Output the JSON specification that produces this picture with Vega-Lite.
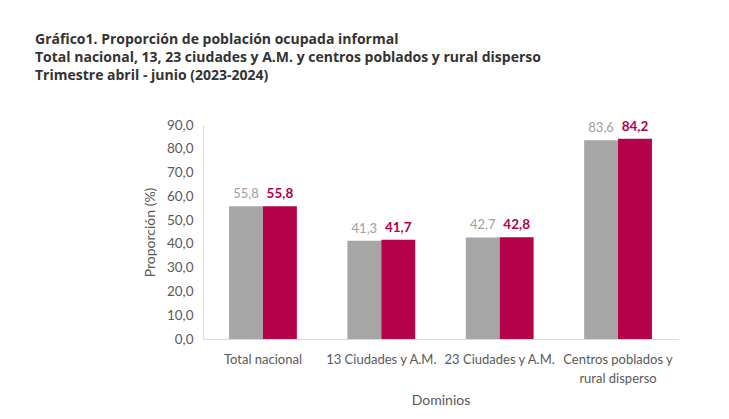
{
  "$schema": "https://vega.github.io/schema/vega-lite/v6.json",
  "autosize": {"type": "none"},
  "width": 475,
  "height": 214,
  "padding": {"left": 203, "top": 125, "right": 51, "bottom": 80},
  "background": "white",
  "config": {
    "locale": {"number": {"decimal": ",", "thousands": ".", "grouping": [3], "currency": ["$", ""]}},
    "view": {"stroke": null},
    "font": "Lato"
  },
  "title": {
    "text": [
      "Gráfico1. Proporción de población ocupada informal",
      "Total nacional, 13, 23 ciudades y A.M. y centros poblados y rural disperso",
      "Trimestre abril - junio (2023-2024)"
    ],
    "anchor": "start",
    "frame": "group",
    "dx": -168,
    "offset": 35,
    "font": "Open Sans",
    "fontSize": 14,
    "fontWeight": "bold",
    "color": "#333333",
    "lineHeight": 18
  },
  "data": {
    "values": [
      {"dominio": "Total nacional", "anio": "2023", "valor": 55.8},
      {"dominio": "Total nacional", "anio": "2024", "valor": 55.8},
      {"dominio": "13 Ciudades y A.M.", "anio": "2023", "valor": 41.3},
      {"dominio": "13 Ciudades y A.M.", "anio": "2024", "valor": 41.7},
      {"dominio": "23 Ciudades y A.M.", "anio": "2023", "valor": 42.7},
      {"dominio": "23 Ciudades y A.M.", "anio": "2024", "valor": 42.8},
      {"dominio": "Centros poblados y rural disperso", "anio": "2023", "valor": 83.6},
      {"dominio": "Centros poblados y rural disperso", "anio": "2024", "valor": 84.2}
    ]
  },
  "encoding": {
    "x": {
      "field": "dominio",
      "type": "nominal",
      "sort": null,
      "scale": {"paddingInner": 0.427, "paddingOuter": 0.22},
      "axis": {
        "title": "Dominios",
        "titleFont": "Lato",
        "titleFontSize": 14,
        "titleFontWeight": "normal",
        "titleColor": "#595959",
        "titlePadding": 8,
        "labelAngle": 0,
        "labelFont": "Lato",
        "labelFontSize": 13,
        "labelColor": "#595959",
        "labelPadding": 14,
        "labelLineHeight": 19,
        "labelOverlap": false,
        "labelLimit": 0,
        "labelExpr": "datum.label == 'Centros poblados y rural disperso' ? ['Centros poblados y', 'rural disperso'] : datum.label",
        "ticks": false,
        "domainColor": "#D9D9D9",
        "domainWidth": 1
      }
    },
    "xOffset": {"field": "anio", "type": "nominal", "scale": {"paddingInner": 0, "paddingOuter": 0}},
    "y": {
      "field": "valor",
      "type": "quantitative",
      "scale": {"domain": [0, 90], "nice": false},
      "axis": {
        "title": "Proporción (%)",
        "titleFont": "Lato",
        "titleFontSize": 14,
        "titleFontWeight": "normal",
        "titleColor": "#595959",
        "titlePadding": 9,
        "values": [0, 10, 20, 30, 40, 50, 60, 70, 80, 90],
        "format": ".1f",
        "labelFont": "Lato",
        "labelFontSize": 13.5,
        "labelColor": "#595959",
        "labelPadding": 10,
        "ticks": false,
        "grid": false,
        "domainColor": "#D9D9D9",
        "domainWidth": 1
      }
    }
  },
  "layer": [
    {
      "mark": {"type": "bar"},
      "encoding": {
        "color": {
          "field": "anio",
          "type": "nominal",
          "scale": {"domain": ["2023", "2024"], "range": ["#A6A6A6", "#B5004A"]},
          "legend": null
        }
      }
    },
    {
      "transform": [{"filter": "datum.anio == '2023'"}],
      "mark": {"type": "text", "baseline": "bottom", "dy": -5, "fontSize": 13, "font": "Lato", "color": "#A0A0A0"},
      "encoding": {"text": {"field": "valor", "type": "quantitative", "format": ".1f"}}
    },
    {
      "transform": [{"filter": "datum.anio == '2024'"}],
      "mark": {"type": "text", "baseline": "bottom", "dy": -5, "fontSize": 13.5, "font": "Lato", "fontWeight": "bold", "color": "#B5004A"},
      "encoding": {"text": {"field": "valor", "type": "quantitative", "format": ".1f"}}
    }
  ]
}
